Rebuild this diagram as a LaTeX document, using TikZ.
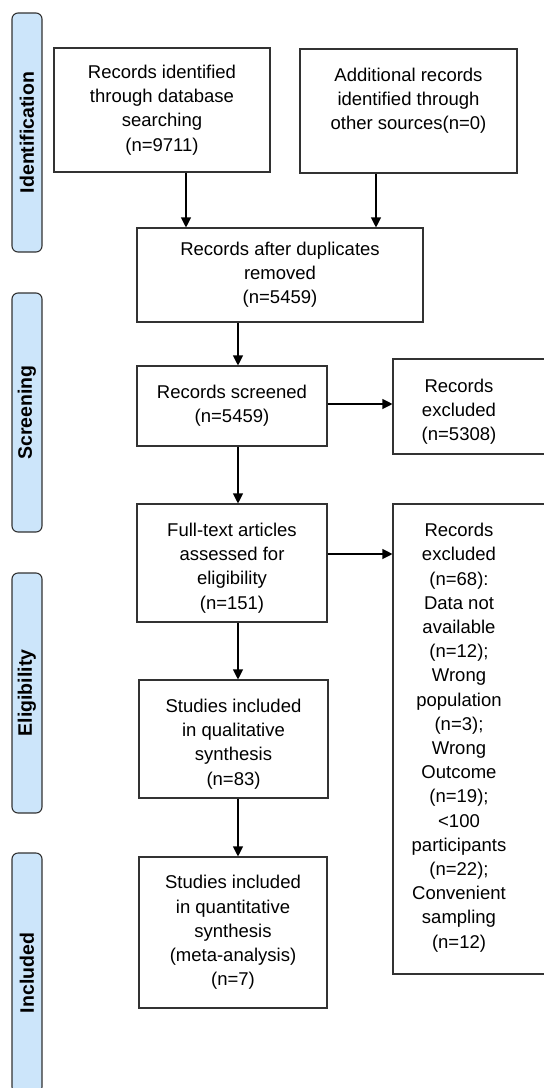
\documentclass[tikz,border=0pt]{standalone}
\usepackage{fontspec}
\setmainfont{Liberation Sans}
\usetikzlibrary{arrows.meta,calc}
\definecolor{barfill}{RGB}{204,229,250}
\definecolor{edge}{RGB}{50,50,50}
\begin{document}
\begin{tikzpicture}[x=1pt,y=-1pt,
  box/.style={draw=edge,line width=1.1pt,fill=white,inner sep=0pt,align=center,font=\fontsize{18.5}{24.2}\selectfont},
  txt/.style={inner sep=0pt,align=center,font=\fontsize{18.5}{24.2}\selectfont},
  bar/.style={draw=edge,line width=1.1pt,fill=barfill,rounded corners=6pt,rotate=90,minimum height=30pt,inner sep=0pt,font=\bfseries\fontsize{19.5}{22}\selectfont},
  arr/.style={draw=black,line width=1.1pt,-{Triangle[length=10pt,width=10pt]}}]
\useasboundingbox (0,0) rectangle (544,1088);
\clip (0,0) rectangle (544,1088);
% side bars
\node[bar,minimum width=239pt] (sid) at (27,132.5) {Identification};
\node[bar,minimum width=239pt] (sscr) at (27,412.5) {Screening};
\node[bar,minimum width=240pt] (selg) at (27,693) {Eligibility};
\node[bar,minimum width=240pt] (sinc) at (27,973) {Included};
% boxes
\node[box,minimum width=216pt,minimum height=124pt] (b1) at (162,110) {Records identified\\through database\\searching\\(n=9711)};
\node[box,minimum width=217pt,minimum height=124pt] (b2) at (408.5,111) {Additional records\\identified through\\other sources(n=0)\\\mbox{}};
\node[box,minimum width=286pt,minimum height=94pt] (b3) at (280,275) {Records after duplicates\\removed\\(n=5459)};
\node[box,minimum width=190pt,minimum height=80pt] (b4) at (232,406) {Records screened\\(n=5459)};
\node[box,minimum width=167pt,minimum height=95pt] (b5) at (476.5,406.5) {};
\node[txt] (t5) at (459,412) {Records\\excluded\\(n=5308)};
\node[box,minimum width=190pt,minimum height=118pt] (b6) at (232,563) {};
\node[txt] (t6) at (232,568) {Full-text articles\\assessed for\\eligibility\\(n=151)};
\node[box,minimum width=167pt,minimum height=470pt] (b7) at (476.5,739) {};
\node[txt] (t7) at (459,737.5) {Records\\excluded\\(n=68):\\Data not\\available\\(n=12);\\Wrong\\population\\(n=3);\\Wrong\\Outcome\\(n=19);\\<100\\participants\\(n=22);\\Convenient\\sampling\\(n=12)};
\node[box,minimum width=189pt,minimum height=118pt] (b8) at (233.5,739) {};
\node[txt] (t8) at (233.5,744) {Studies included\\in qualitative\\synthesis\\(n=83)};
\node[box,minimum width=188pt,minimum height=151pt] (b9) at (233,932.5) {Studies included\\in quantitative\\synthesis\\(meta-analysis)\\(n=7)};
% connector guides
\coordinate (a1) at (186,0);
\coordinate (a2) at (376,0);
\coordinate (ac) at (238,0);
\coordinate (r1) at (0,404);
\coordinate (r2) at (0,554);
% connectors
\draw[arr] (b1.south -| a1) -- (b3.north -| a1);
\draw[arr] (b2.south -| a2) -- (b3.north -| a2);
\draw[arr] (b3.south -| ac) -- (b4.north -| ac);
\draw[arr] (b4.south -| ac) -- (b6.north -| ac);
\draw[arr] (b6.south -| ac) -- (b8.north -| ac);
\draw[arr] (b8.south -| ac) -- (b9.north -| ac);
\draw[arr] (b4.east |- r1) -- (b5.west |- r1);
\draw[arr] (b6.east |- r2) -- (b7.west |- r2);
\end{tikzpicture}
\end{document}
